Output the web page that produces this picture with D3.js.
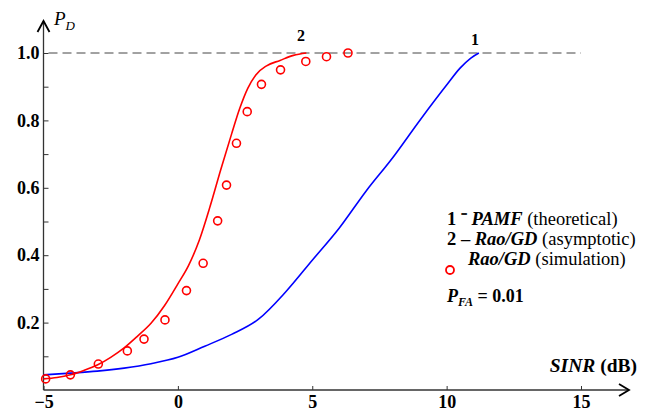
<!DOCTYPE html>
<html>
<head>
<meta charset="utf-8">
<script src="https://cdn.jsdelivr.net/npm/d3@7"></script>
<style>
  body { margin: 0; background: #fff; }
</style>
</head>
<body>
<svg id="canvas" width="652" height="412"></svg>
<script>
// curve 1: PAMF (theoretical)
let pamfX = [-5, -4, -3, -2, -1, 0, 1, 2, 3, 4, 5, 6, 7, 8, 9, 10, 10.5, 10.9, 11.2];
let pamfY = [0.045, 0.05, 0.056, 0.065, 0.078, 0.097, 0.13, 0.165, 0.21, 0.29, 0.385, 0.48, 0.59, 0.69, 0.80, 0.905, 0.955, 0.985, 1.0];

// curve 2: Rao/GD (asymptotic)
let raoX = [-5, -4.5, -4, -3.5, -3, -2.5, -2, -1.5, -1, -0.5, 0, 0.4, 0.8, 1.2, 1.6, 2.0, 2.3, 2.6, 2.9, 3.3, 3.8, 4.3, 4.78];
let raoY = [0.033, 0.037, 0.045, 0.058, 0.074, 0.097, 0.125, 0.16, 0.198, 0.25, 0.315, 0.37, 0.445, 0.545, 0.655, 0.76, 0.835, 0.895, 0.935, 0.962, 0.978, 0.993, 1.0];

// Rao/GD (simulation)
let simX = [-4.92, -4.0, -2.96, -1.88, -1.26, -0.48, 0.32, 0.94, 1.48, 1.81, 2.18, 2.58, 3.11, 3.82, 4.76, 5.53, 6.33];
let simY = [0.033, 0.045, 0.077, 0.116, 0.151, 0.208, 0.295, 0.376, 0.502, 0.608, 0.732, 0.826, 0.907, 0.95, 0.975, 0.989, 1.0];

let xTicks = [-5, 0, 5, 10, 15];
let yTicks = [0.1, 0.2, 0.3, 0.4, 0.5, 0.6, 0.7, 0.8, 0.9, 1.0];
let yLabels = [0.2, 0.4, 0.6, 0.8, 1.0];

let serif = "'Liberation Serif'";

let canvas = d3.select("#canvas");

let x = d3.scaleLinear().domain([-5, 15]).range([43.5, 581]);
let y = d3.scaleLinear().domain([0, 1]).range([390, 53]);

let axisColor = "#333";

// x axis
let xAxis = canvas.append("g")
  .attr("transform", "translate(0," + y(0) + ")")
  .call(d3.axisBottom(x).tickValues(xTicks).tickSize(-4).tickPadding(5).tickFormat(d3.format("d")))
  .attr("font-family", serif)
  .attr("font-size", 18)
  .attr("font-weight", "bold");
xAxis.select(".domain").remove();
xAxis.selectAll("line").attr("stroke", axisColor);
xAxis.selectAll("text").attr("fill", "#000");

// y axis
let yAxis = canvas.append("g")
  .attr("transform", "translate(" + x(-5) + ",0)")
  .call(d3.axisLeft(y).tickValues(yTicks).tickSize(-5).tickPadding(4)
    .tickFormat((d) => yLabels.some((v) => Math.abs(v - d) < 1e-9) ? d3.format(".1f")(d) : ""))
  .attr("font-family", serif)
  .attr("font-size", 18)
  .attr("font-weight", "bold");
yAxis.select(".domain").remove();
yAxis.selectAll("line").attr("stroke", axisColor);
yAxis.selectAll("text").attr("fill", "#000");

// axis lines with arrows
canvas.append("line")
  .attr("x1", x(-5)).attr("y1", y(0)).attr("x2", 629).attr("y2", y(0))
  .attr("stroke", axisColor).attr("stroke-width", 1.3);
canvas.append("path")
  .attr("d", "M619," + (y(0) - 6) + " L629," + y(0) + " L619," + (y(0) + 6))
  .attr("fill", "none").attr("stroke", "#000").attr("stroke-width", 1.8);
canvas.append("line")
  .attr("x1", x(-5)).attr("y1", y(0)).attr("x2", x(-5)).attr("y2", 21)
  .attr("stroke", axisColor).attr("stroke-width", 1.3);
canvas.append("path")
  .attr("d", "M" + (x(-5) - 6) + ",32 L" + x(-5) + ",21 L" + (x(-5) + 6) + ",32")
  .attr("fill", "none").attr("stroke", "#000").attr("stroke-width", 1.8);

// dashed line at P_D = 1
canvas.append("line")
  .attr("x1", x(-5) + 5).attr("y1", y(1)).attr("x2", x(15)).attr("y2", y(1))
  .attr("stroke", "#444").attr("stroke-width", 1)
  .attr("stroke-dasharray", "9,5");

let line = d3.line()
  .x((d) => x(d[0]))
  .y((d) => y(d[1]))
  .curve(d3.curveMonotoneX);

canvas.append("path")
  .datum(d3.zip(pamfX, pamfY))
  .attr("d", line)
  .attr("fill", "none")
  .attr("stroke", "#0000ff")
  .attr("stroke-width", 1.6);

canvas.append("path")
  .datum(d3.zip(raoX, raoY))
  .attr("d", line)
  .attr("fill", "none")
  .attr("stroke", "#ff0000")
  .attr("stroke-width", 1.6);

canvas.selectAll("circle.sim")
  .data(d3.zip(simX, simY))
  .enter()
  .append("circle")
  .attr("class", "sim")
  .attr("cx", (d) => x(d[0]))
  .attr("cy", (d) => y(d[1]))
  .attr("r", 4)
  .attr("fill", "none")
  .attr("stroke", "#ff0000")
  .attr("stroke-width", 1.6);

let addText = (px, py, size) => canvas.append("text")
  .attr("x", px).attr("y", py)
  .attr("font-family", serif)
  .attr("font-size", size);

// curve numbers
addText(475, 45, 16).attr("text-anchor", "middle").attr("font-weight", "bold").text("1");
addText(301, 41, 16).attr("text-anchor", "middle").attr("font-weight", "bold").text("2");

// axis titles
let pd = addText(54, 25, 19).attr("font-style", "italic");
pd.append("tspan").text("P");
pd.append("tspan").attr("dy", 5).attr("font-size", 13).text("D");

let sinr = addText(637, 372, 19.5).attr("text-anchor", "end").attr("font-weight", "bold");
sinr.append("tspan").attr("font-style", "italic").text("SINR");
sinr.append("tspan").text(" (dB)");

// legend
let legendX = 447;
let legendSize = 18.5;
let l1 = addText(legendX, 225, legendSize);
l1.append("tspan").attr("font-weight", "bold").text("1 \u207B ");
l1.append("tspan").attr("font-weight", "bold").attr("font-style", "italic").text("PAMF");
l1.append("tspan").text(" (theoretical)");

let l2 = addText(legendX, 245, legendSize);
l2.append("tspan").attr("font-weight", "bold").text("2 \u2013 ");
l2.append("tspan").attr("font-weight", "bold").attr("font-style", "italic").text("Rao/GD");
l2.append("tspan").text(" (asymptotic)");

canvas.append("circle").attr("cx", 450).attr("cy", 270).attr("r", 4)
  .attr("fill", "none").attr("stroke", "#ff0000").attr("stroke-width", 1.8);
let l3 = addText(468, 265, legendSize);
l3.append("tspan").attr("font-weight", "bold").attr("font-style", "italic").text("Rao/GD");
l3.append("tspan").text(" (simulation)");

let pfa = addText(legendX, 302, 18).attr("font-weight", "bold");
pfa.append("tspan").attr("font-style", "italic").text("P");
pfa.append("tspan").attr("dy", 4).attr("font-style", "italic").attr("font-size", 12).text("FA");
pfa.append("tspan").attr("dy", -4).text(" = 0.01");
</script>
</body>
</html>
